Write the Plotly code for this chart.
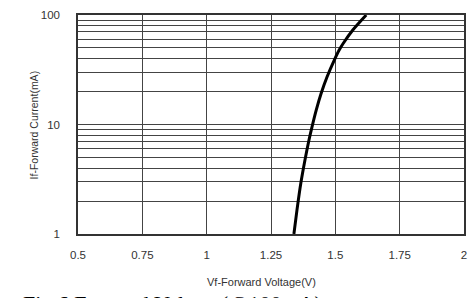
import plotly.graph_objects as go

voltage = [1.339, 1.351, 1.366, 1.382, 1.398, 1.408, 1.426, 1.445, 1.468, 1.496, 1.515, 1.531, 1.568, 1.620]
current = [1.0, 1.66, 2.92, 4.74, 7.3, 9.23, 13.6, 19.3, 27.3, 38.8, 47.9, 55.2, 72.9, 100.0]

x_ticks = [0.5, 0.75, 1.0, 1.25, 1.5, 1.75, 2.0]
x_labels = ["0.5", "0.75", "1", "1.25", "1.5", "1.75", "2"]
y_grid = [1, 2, 3, 4, 5, 6, 7, 8, 9, 10, 20, 30, 40, 50, 60, 70, 80, 90, 100]
y_labels = ["1", "", "", "", "", "", "", "", "", "10", "", "", "", "", "", "", "", "", "100"]

fig = go.Figure()
fig.add_trace(go.Scatter(x=voltage, y=current, mode="lines",
                         line=dict(color="black", width=3, shape="spline", smoothing=0.8),
                         showlegend=False, hoverinfo="skip"))

font = dict(family="Liberation Sans, Arial", size=11.5, color="#333")
fig.update_layout(
    width=470, height=298,
    margin=dict(l=78, r=6, t=15, b=64),
    paper_bgcolor="white", plot_bgcolor="white",
    xaxis=dict(range=[0.5, 2.0], tickvals=x_ticks, ticktext=x_labels,
               showgrid=True, gridcolor="#444", gridwidth=1.3,
               showline=True, linecolor="#333", linewidth=1.5, mirror=True,
               ticks="", tickfont=font, zeroline=False, automargin=False,
               ticklabelstandoff=9),
    yaxis=dict(type="log", range=[0, 2], tickvals=y_grid, ticktext=y_labels,
               showgrid=True, gridcolor="#444", gridwidth=1.3,
               showline=True, linecolor="#333", linewidth=1.5, mirror=True,
               ticks="", tickfont=font, zeroline=False, automargin=False,
               ticklabelstandoff=14),
    annotations=[
        dict(text="Vf-Forward Voltage(V)", x=(261 - 78) / (470 - 84), y=0,
             xref="paper", yref="paper", yanchor="middle", yshift=-48,
             showarrow=False, font=dict(family="Liberation Sans, Arial", size=11, color="#333")),
        dict(text="If-Forward Current(mA)", x=-0.135, y=0.5, xref="paper", yref="paper",
             textangle=-90, showarrow=False,
             font=dict(family="Liberation Sans, Arial", size=10.5, color="#333")),
        dict(text="Fig.6 Forward Voltage(@100mA)",
             x=0.0, y=0, xref="paper", yref="paper", xanchor="left", yanchor="top",
             xshift=-57, yshift=-55, showarrow=False,
             font=dict(family="Liberation Serif, Times New Roman", size=22, color="black")),
    ],
)
fig.write_html("out.html", config={"displayModeBar": False},
               post_script="document.body.style.margin='0';document.body.style.overflow='hidden';")
